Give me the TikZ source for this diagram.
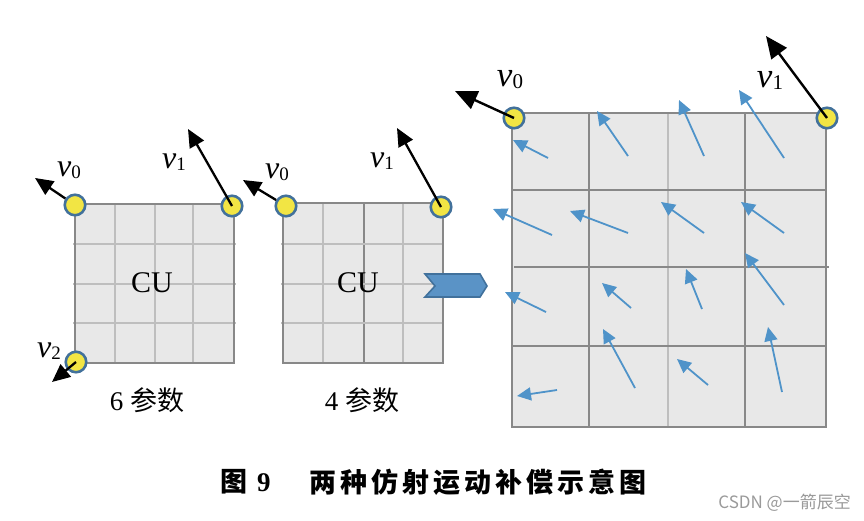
\documentclass[tikz,border=0pt]{standalone}
\usepackage{fontspec}
\setmainfont{Liberation Serif}
\newfontfamily\cjk{Noto Sans CJK SC}
\usetikzlibrary{arrows.meta}
\definecolor{boxgray}{HTML}{E8E8E8}
\definecolor{gridlt}{HTML}{BEBEBE}
\definecolor{borderc}{HTML}{888888}
\definecolor{ptyellow}{HTML}{F2E544}
\definecolor{ptblue}{HTML}{42719B}
\definecolor{arrowblue}{HTML}{4F93C9}
\definecolor{chevfill}{HTML}{5A93C6}
\definecolor{chevdraw}{HTML}{41719C}
\definecolor{wmgray}{HTML}{9A9A9A}
\newcommand\vl[2][19]{\textit{v}\raisebox{-2pt}{\fontsize{#1}{#1}\selectfont #2}}
\begin{document}
\begin{tikzpicture}[x=1pt,y=-1pt,
  lightline/.style={draw=gridlt, line width=1.5pt},
  darkline/.style={draw=borderc, line width=2pt},
  pt/.style={circle, fill=ptyellow, draw=ptblue, line width=2.6pt, minimum size=20.5pt, inner sep=0pt},
  mv/.style={-{Triangle[length=18pt,width=16pt]}, line width=2.3pt, black},
  mvbig/.style={-{Triangle[length=22pt,width=19pt]}, line width=2.4pt, black},
  sub/.style={-{Triangle[length=14pt,width=13pt]}, line width=1.8pt, arrowblue},
  lab/.style={font=\fontsize{32}{32}\selectfont, inner sep=0pt},
  labbig/.style={font=\fontsize{35}{35}\selectfont, inner sep=0pt},
  cutxt/.style={font=\fontsize{30}{30}\selectfont, inner sep=0pt},
  captxt/.style={font=\fontsize{27}{27}\selectfont, inner sep=0pt},
  chev/.style={fill=chevfill, draw=chevdraw, line width=1.6pt, line join=miter}
]
\useasboundingbox (0,0) rectangle (864,521);
\fill[white] (0,0) rectangle (864,521);

% ---- box 1 (6 parameters)
\fill[boxgray] (75,204) rectangle (234,363);
\foreach \x in {115,155,193} \draw[lightline] (\x,204) -- (\x,363);
\foreach \y in {244,284,323} \draw[lightline] (73,\y) -- (236,\y);
\draw[darkline] (75,204) rectangle (234,363);
\node[cutxt] (cu1) at (152,283) {CU};
\node[captxt] (p6) at (147,400) {6 {\cjk 参数}};

% ---- box 2 (4 parameters)
\fill[boxgray] (283,203) rectangle (443,363);
\foreach \x in {323,403} \draw[lightline] (\x,203) -- (\x,363);
\draw[darkline] (364,203) -- (364,363);
\foreach \y in {244,284,323} \draw[lightline] (281,\y) -- (443,\y);
\draw[darkline] (283,203) rectangle (443,363);
\node[cutxt] (cu2) at (358,283) {CU};
\node[captxt] (p4) at (362,400) {4 {\cjk 参数}};

% ---- chevron
\draw[chev] (425,274) -- (480,274) -- (487,286) -- (480,297) -- (425,297) -- (435,286) -- cycle;

% ---- big box
\fill[boxgray] (512,113) rectangle (826,427);
\foreach \x in {589,745} \draw[darkline] (\x,113) -- (\x,427);
\draw[draw=gridlt, line width=2pt] (668,113) -- (668,427);
\foreach \y in {190,346} \draw[darkline] (512,\y) -- (826,\y);
\draw[darkline] (514,267) -- (829,267);
\draw[darkline, line width=2.4pt] (512,113) rectangle (826,427);

% blue motion vectors
\foreach \i/\ax/\ay/\bx/\by in {
  1/548/158/513/140, 2/628/156/597/111, 3/704/156/679/100, 4/784/158/739/90,
  5/552/235/493/209, 6/628/233/570/211, 7/704/233/661/202, 8/784/233/741/202,
  9/546/312/505/292, 10/631/308/602/283, 11/702/309/686/269, 12/784/305/745/253,
  13/557/390/517/396, 14/635/388/603/329, 15/708/385/677/359, 16/782/392/768/327}{
  \coordinate (s\i) at (\ax,\ay);
  \coordinate (e\i) at (\bx,\by);
  \draw[sub] (s\i) -- (e\i);
}

% ---- control points
\node[pt] (a0) at (75,205) {};
\node[pt] (a1) at (232,206) {};
\node[pt] (a2) at (76,362) {};
\node[pt] (b0) at (286,206) {};
\node[pt] (b1) at (441,207) {};
\node[pt] (c0) at (514,118) {};
\node[pt] (c1) at (827,118) {};

\coordinate (ta0) at (35,178);
\coordinate (ta1) at (188,129);
\coordinate (ta2) at (52,382);
\coordinate (tb0) at (243,180);
\coordinate (tb1) at (397,128);
\coordinate (tc0) at (455,91);
\coordinate (tc1) at (766,36);

\draw[mv] (a0) -- (ta0);
\draw[mv] (a1.center) -- (ta1);
\draw[mv] (a2.center) -- (ta2);
\draw[mv] (b0) -- (tb0);
\draw[mv] (b1.center) -- (tb1);
\draw[mvbig] (c0.center) -- (tc0);
\draw[mvbig] (c1.center) -- (tc1);

% ---- labels
\node[lab] (la0) at (69,170) {\vl{0}};
\node[lab] (la1) at (174,162) {\vl{1}};
\node[lab] (la2) at (49,351) {\vl{2}};
\node[lab] (lb0) at (277,172) {\vl{0}};
\node[lab] (lb1) at (382,161) {\vl{1}};
\node[labbig] (lc0) at (510,80) {\vl[21]{0}};
\node[labbig] (lc1) at (770,80) {\vl[21]{1}};

% ---- caption
\node[captxt, anchor=west] (fig) at (220,482) {{\cjk\bfseries 图}\hspace{10pt}\textbf{9}};
\node[captxt, anchor=west] (title) at (309,482) {\cjk\bfseries 两\hspace{4pt}种\hspace{4pt}仿\hspace{4pt}射\hspace{4pt}运\hspace{4pt}动\hspace{4pt}补\hspace{4pt}偿\hspace{4pt}示\hspace{4pt}意\hspace{4pt}图};
\node[anchor=east, inner sep=0pt, text=wmgray, font=\cjk\fontsize{17}{17}\selectfont] (wm) at (851,503) {CSDN @一箭辰空};
\end{tikzpicture}
\end{document}
